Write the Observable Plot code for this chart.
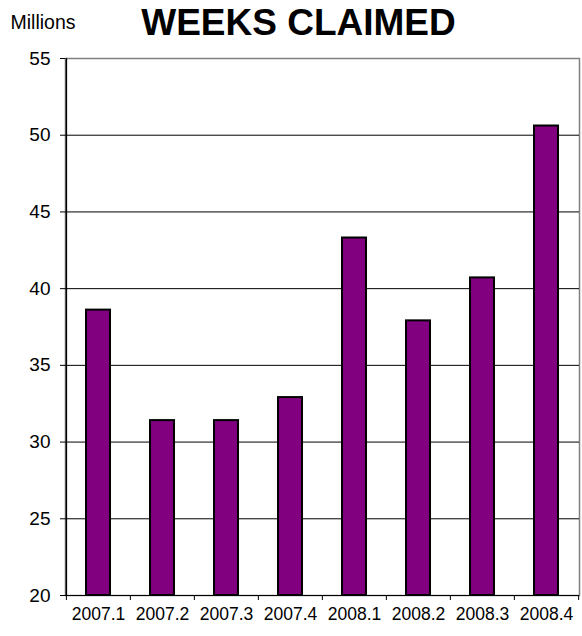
<!DOCTYPE html>
<html><head>
<meta charset="utf-8">
<script src="https://cdn.jsdelivr.net/npm/d3@7"></script>
<script src="https://cdn.jsdelivr.net/npm/@observablehq/plot@0.6"></script>
<style>
body{margin:0;background:#fff;}
</style>
</head><body>
<div id="chart"></div>
<script>
const quarters = ["2007.1","2007.2","2007.3","2007.4","2008.1","2008.2","2008.3","2008.4"];
const weeksClaimed = [38.6, 31.4, 31.4, 32.9, 43.3, 37.9, 40.7, 50.6];
const yTicks = [20, 25, 30, 35, 40, 45, 50, 55];
const gridValues = [20, 25, 30, 35, 40, 45, 50];
const titleText = "WEEKS CLAIMED";
const unitText = "Millions";

const data = quarters.map((q, i) => ({q, v: weeksClaimed[i]}));

const W = 582, H = 636, mL = 65, mR = 3, mT = 58, mB = 41;
const bw = (W - mL - mR) / quarters.length;

const chart = Plot.plot({
  width: W, height: H,
  marginLeft: mL, marginRight: mR, marginTop: mT, marginBottom: mB,
  style: {fontFamily: "'Liberation Sans', Arial, sans-serif", background: "#fff", color: "#000"},
  x: {domain: quarters, padding: 0, label: null},
  y: {domain: [20, 55], label: null},
  marks: [
    Plot.frame({stroke: "#808080", strokeWidth: 1.5}),
    Plot.ruleY(gridValues, {stroke: "#000", strokeWidth: 1}),
    Plot.ruleX([quarters[0]], {dx: -bw / 2, stroke: "#000", strokeWidth: 1.5}),
    Plot.barY(data, {x: "q", y1: 20, y2: "v", fill: "#800080", stroke: "#000", strokeWidth: 2, insetLeft: 20, insetRight: 20}),
    Plot.axisY({ticks: yTicks, tickSize: 5, tickPadding: 10, fontSize: 19, stroke: "#000", tickFormat: d => d, label: null}),
    Plot.axisX({tickSize: 0, tickPadding: 12, fontSize: 17.5, fill: "#000", label: null}),
    Plot.axisX({text: null, tickSize: 5, dx: -bw / 2, stroke: "#000", label: null}),
    Plot.axisX({ticks: [quarters[quarters.length - 1]], text: null, tickSize: 5, dx: bw / 2, stroke: "#000", label: null}),
    Plot.text([titleText], {text: d => d, frameAnchor: "top", dx: -24, dy: -24, lineAnchor: "bottom", fontSize: 37, fontWeight: "bold", fill: "#000"}),
    Plot.text([unitText], {text: d => d, frameAnchor: "top-left", textAnchor: "start", dx: -55, dy: -30, lineAnchor: "bottom", fontSize: 19.5, fill: "#000"})
  ]
});
document.getElementById("chart").appendChild(chart);
</script>
</body></html>
